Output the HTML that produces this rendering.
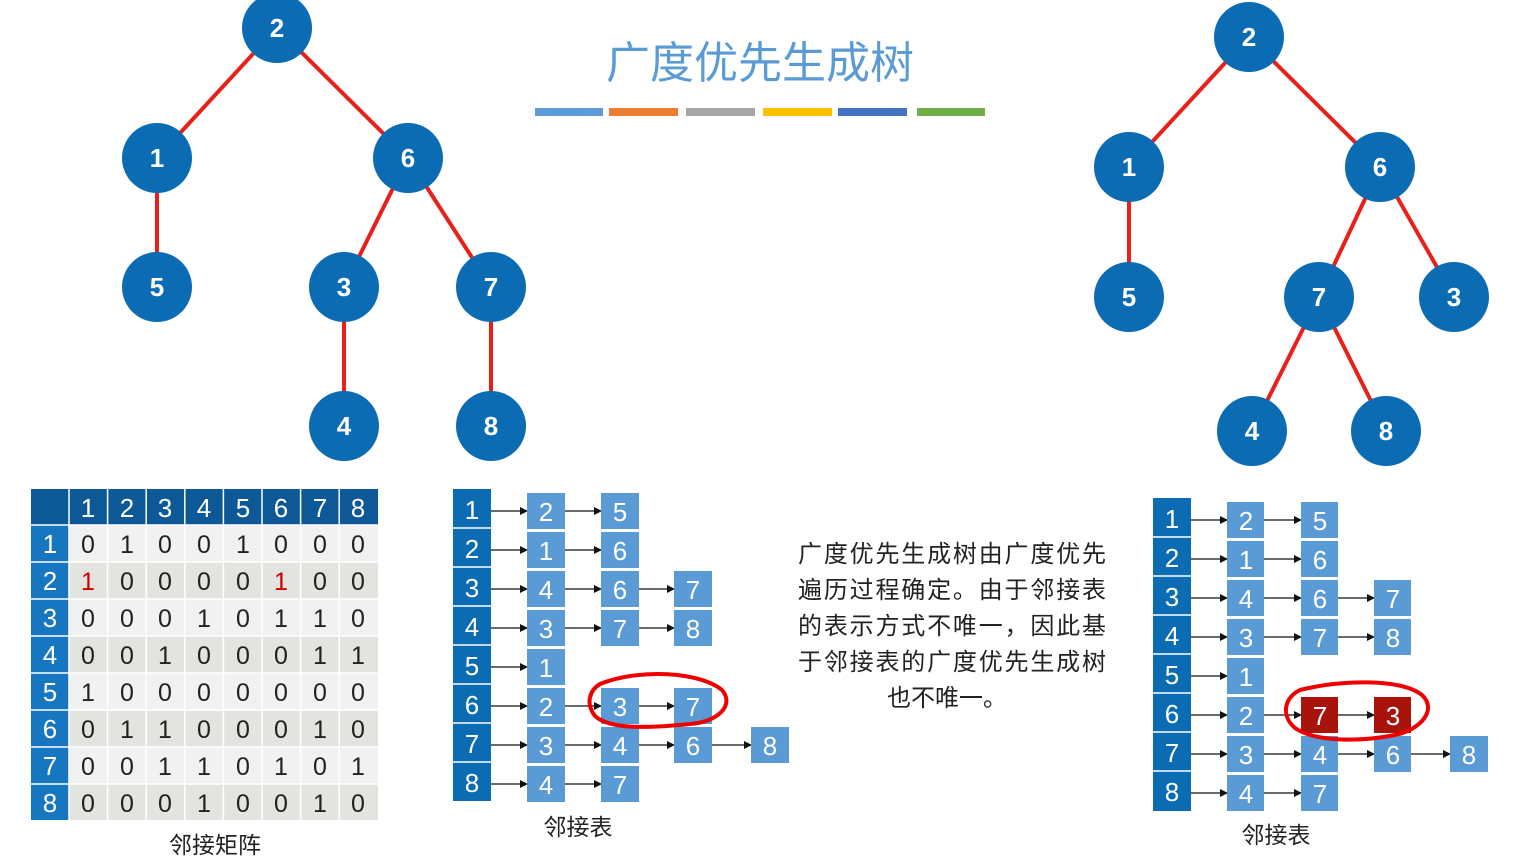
<!DOCTYPE html>
<html><head><meta charset="utf-8"><style>
html,body{margin:0;padding:0;background:#fff;width:1531px;height:864px;overflow:hidden}
svg{display:block}
text{font-family:"Liberation Sans","Noto Sans CJK SC",sans-serif}
</style></head><body>
<svg width="1531" height="864" viewBox="0 0 1531 864" xmlns="http://www.w3.org/2000/svg">
<defs>
<marker id="ar" markerWidth="8" markerHeight="8" refX="7" refY="4" orient="auto" markerUnits="userSpaceOnUse"><path d="M0,0 L8,4 L0,8 z" fill="#111"/></marker>
</defs>

<text x="760" y="78" text-anchor="middle" font-size="44" fill="#5b9bd5" style="font-family:'Noto Sans CJK SC',sans-serif">广度优先生成树</text>
<rect x="535" y="108" width="68" height="8" fill="#5b9bd5"/>
<rect x="609" y="108" width="69" height="8" fill="#ed7d31"/>
<rect x="686" y="108" width="69" height="8" fill="#a5a5a5"/>
<rect x="763" y="108" width="69" height="8" fill="#ffc000"/>
<rect x="838" y="108" width="69" height="8" fill="#4472c4"/>
<rect x="917" y="108" width="68" height="8" fill="#70ad47"/>

<g stroke="#e8201a" stroke-width="4">
<line x1="277" y1="28" x2="157" y2="158"/><line x1="277" y1="28" x2="408" y2="158"/>
<line x1="157" y1="158" x2="157" y2="287"/><line x1="408" y1="158" x2="344" y2="287"/>
<line x1="408" y1="158" x2="491" y2="287"/><line x1="344" y1="287" x2="344" y2="426"/>
<line x1="491" y1="287" x2="491" y2="426"/>
</g>
<g fill="#0b6cb3">
<circle cx="277" cy="28" r="35"/><circle cx="157" cy="158" r="35"/><circle cx="408" cy="158" r="35"/>
<circle cx="157" cy="287" r="35"/><circle cx="344" cy="287" r="35"/><circle cx="491" cy="287" r="35"/>
<circle cx="344" cy="426" r="35"/><circle cx="491" cy="426" r="35"/>
</g>
<g fill="#fff" font-size="26" font-weight="bold" text-anchor="middle">
<text x="277" y="37">2</text><text x="157" y="167">1</text><text x="408" y="167">6</text>
<text x="157" y="296">5</text><text x="344" y="296">3</text><text x="491" y="296">7</text>
<text x="344" y="435">4</text><text x="491" y="435">8</text>
</g>

<g stroke="#e8201a" stroke-width="4">
<line x1="1249" y1="37" x2="1129" y2="167"/><line x1="1249" y1="37" x2="1380" y2="167"/>
<line x1="1129" y1="167" x2="1129" y2="297"/><line x1="1380" y1="167" x2="1319" y2="297"/>
<line x1="1380" y1="167" x2="1454" y2="297"/><line x1="1319" y1="297" x2="1252" y2="431"/>
<line x1="1319" y1="297" x2="1386" y2="431"/>
</g>
<g fill="#0b6cb3">
<circle cx="1249" cy="37" r="35"/><circle cx="1129" cy="167" r="35"/><circle cx="1380" cy="167" r="35"/>
<circle cx="1129" cy="297" r="35"/><circle cx="1319" cy="297" r="35"/><circle cx="1454" cy="297" r="35"/>
<circle cx="1252" cy="431" r="35"/><circle cx="1386" cy="431" r="35"/>
</g>
<g fill="#fff" font-size="26" font-weight="bold" text-anchor="middle">
<text x="1249" y="46">2</text><text x="1129" y="176">1</text><text x="1380" y="176">6</text>
<text x="1129" y="306">5</text><text x="1319" y="306">7</text><text x="1454" y="306">3</text>
<text x="1252" y="440">4</text><text x="1386" y="440">8</text>
</g>

<rect x="31" y="489" width="347" height="36" fill="#0d5896"/>
<rect x="31" y="525" width="38" height="295" fill="#1677c0"/>
<g>
<rect x="69" y="525" width="309" height="37" fill="#f1f1f1"/>
<rect x="69" y="562" width="309" height="37" fill="#e3e3df"/>
<rect x="69" y="599" width="309" height="37" fill="#f1f1f1"/>
<rect x="69" y="636" width="309" height="37" fill="#e3e3df"/>
<rect x="69" y="673" width="309" height="37" fill="#f1f1f1"/>
<rect x="69" y="710" width="309" height="37" fill="#e3e3df"/>
<rect x="69" y="747" width="309" height="37" fill="#f1f1f1"/>
<rect x="69" y="784" width="309" height="36" fill="#e3e3df"/>
</g>
<g stroke="#fff" stroke-width="1.5">
<line x1="69" y1="489" x2="69" y2="820"/><line x1="107.6" y1="489" x2="107.6" y2="820"/><line x1="146.2" y1="489" x2="146.2" y2="820"/><line x1="184.8" y1="489" x2="184.8" y2="820"/><line x1="223.4" y1="489" x2="223.4" y2="820"/><line x1="262" y1="489" x2="262" y2="820"/><line x1="300.6" y1="489" x2="300.6" y2="820"/><line x1="339.2" y1="489" x2="339.2" y2="820"/>
<line x1="31" y1="525" x2="378" y2="525"/><line x1="31" y1="562" x2="378" y2="562"/><line x1="31" y1="599" x2="378" y2="599"/><line x1="31" y1="636" x2="378" y2="636"/><line x1="31" y1="673" x2="378" y2="673"/><line x1="31" y1="710" x2="378" y2="710"/><line x1="31" y1="747" x2="378" y2="747"/><line x1="31" y1="784" x2="378" y2="784"/>
</g>
<g fill="#fff" font-size="26" text-anchor="middle">
<text x="88" y="517">1</text><text x="127" y="517">2</text><text x="165" y="517">3</text><text x="204" y="517">4</text><text x="243" y="517">5</text><text x="281" y="517">6</text><text x="320" y="517">7</text><text x="358" y="517">8</text>
<text x="50" y="553">1</text><text x="50" y="590">2</text><text x="50" y="627">3</text><text x="50" y="664">4</text><text x="50" y="701">5</text><text x="50" y="738">6</text><text x="50" y="775">7</text><text x="50" y="812">8</text>
</g>
<g fill="#222" font-size="25" text-anchor="middle">
<text y="553"><tspan x="88">0</tspan><tspan x="127">1</tspan><tspan x="165">0</tspan><tspan x="204">0</tspan><tspan x="243">1</tspan><tspan x="281">0</tspan><tspan x="320">0</tspan><tspan x="358">0</tspan></text>
<text y="590"><tspan x="88" fill="#c00">1</tspan><tspan x="127">0</tspan><tspan x="165">0</tspan><tspan x="204">0</tspan><tspan x="243">0</tspan><tspan x="281" fill="#c00">1</tspan><tspan x="320">0</tspan><tspan x="358">0</tspan></text>
<text y="627"><tspan x="88">0</tspan><tspan x="127">0</tspan><tspan x="165">0</tspan><tspan x="204">1</tspan><tspan x="243">0</tspan><tspan x="281">1</tspan><tspan x="320">1</tspan><tspan x="358">0</tspan></text>
<text y="664"><tspan x="88">0</tspan><tspan x="127">0</tspan><tspan x="165">1</tspan><tspan x="204">0</tspan><tspan x="243">0</tspan><tspan x="281">0</tspan><tspan x="320">1</tspan><tspan x="358">1</tspan></text>
<text y="701"><tspan x="88">1</tspan><tspan x="127">0</tspan><tspan x="165">0</tspan><tspan x="204">0</tspan><tspan x="243">0</tspan><tspan x="281">0</tspan><tspan x="320">0</tspan><tspan x="358">0</tspan></text>
<text y="738"><tspan x="88">0</tspan><tspan x="127">1</tspan><tspan x="165">1</tspan><tspan x="204">0</tspan><tspan x="243">0</tspan><tspan x="281">0</tspan><tspan x="320">1</tspan><tspan x="358">0</tspan></text>
<text y="775"><tspan x="88">0</tspan><tspan x="127">0</tspan><tspan x="165">1</tspan><tspan x="204">1</tspan><tspan x="243">0</tspan><tspan x="281">1</tspan><tspan x="320">0</tspan><tspan x="358">1</tspan></text>
<text y="812"><tspan x="88">0</tspan><tspan x="127">0</tspan><tspan x="165">0</tspan><tspan x="204">1</tspan><tspan x="243">0</tspan><tspan x="281">0</tspan><tspan x="320">1</tspan><tspan x="358">0</tspan></text>
</g>
<text x="215" y="853" text-anchor="middle" font-size="23" fill="#222" style="font-family:'Noto Sans CJK SC',sans-serif">邻接矩阵</text>

<rect x="453" y="489" width="38" height="312" fill="#0b6cb3"/>
<g stroke="#fff" stroke-width="1.5">
<line x1="453" y1="528" x2="491" y2="528"/><line x1="453" y1="567" x2="491" y2="567"/><line x1="453" y1="606" x2="491" y2="606"/><line x1="453" y1="645" x2="491" y2="645"/><line x1="453" y1="684" x2="491" y2="684"/><line x1="453" y1="723" x2="491" y2="723"/><line x1="453" y1="762" x2="491" y2="762"/>
</g>
<g fill="#fff" font-size="26" text-anchor="middle">
<text x="472" y="519">1</text><text x="472" y="558">2</text><text x="472" y="597">3</text><text x="472" y="636">4</text><text x="472" y="675">5</text><text x="472" y="714">6</text><text x="472" y="753">7</text><text x="472" y="792">8</text>
</g>
<g stroke="#111" stroke-width="1.3" marker-end="url(#ar)">
<line x1="491" y1="511" x2="527" y2="511"/><line x1="565" y1="511" x2="601" y2="511"/>
<line x1="491" y1="550" x2="527" y2="550"/><line x1="565" y1="550" x2="601" y2="550"/>
<line x1="491" y1="589" x2="527" y2="589"/><line x1="565" y1="589" x2="601" y2="589"/><line x1="639" y1="589" x2="674" y2="589"/>
<line x1="491" y1="628" x2="527" y2="628"/><line x1="565" y1="628" x2="601" y2="628"/><line x1="639" y1="628" x2="674" y2="628"/>
<line x1="491" y1="667" x2="527" y2="667"/>
<line x1="491" y1="706" x2="527" y2="706"/><line x1="565" y1="706" x2="601" y2="706"/><line x1="639" y1="706" x2="674" y2="706"/>
<line x1="491" y1="745" x2="527" y2="745"/><line x1="565" y1="745" x2="601" y2="745"/><line x1="639" y1="745" x2="674" y2="745"/><line x1="712" y1="745" x2="751" y2="745"/>
<line x1="491" y1="784" x2="527" y2="784"/><line x1="565" y1="784" x2="601" y2="784"/>
</g>
<g fill="#5b9bd5">
<rect x="527" y="493" width="38" height="36"/><rect x="601" y="493" width="38" height="36"/>
<rect x="527" y="532" width="38" height="36"/><rect x="601" y="532" width="38" height="36"/>
<rect x="527" y="571" width="38" height="36"/><rect x="601" y="571" width="38" height="36"/><rect x="674" y="571" width="38" height="36"/>
<rect x="527" y="610" width="38" height="36"/><rect x="601" y="610" width="38" height="36"/><rect x="674" y="610" width="38" height="36"/>
<rect x="527" y="649" width="38" height="36"/>
<rect x="527" y="688" width="38" height="36"/><rect x="601" y="688" width="38" height="36"/><rect x="674" y="688" width="38" height="36"/>
<rect x="527" y="727" width="38" height="36"/><rect x="601" y="727" width="38" height="36"/><rect x="674" y="727" width="38" height="36"/><rect x="751" y="727" width="38" height="36"/>
<rect x="527" y="766" width="38" height="36"/><rect x="601" y="766" width="38" height="36"/>
</g>
<g fill="#fff" font-size="26" text-anchor="middle">
<text x="546" y="521">2</text><text x="620" y="521">5</text>
<text x="546" y="560">1</text><text x="620" y="560">6</text>
<text x="546" y="599">4</text><text x="620" y="599">6</text><text x="693" y="599">7</text>
<text x="546" y="638">3</text><text x="620" y="638">7</text><text x="693" y="638">8</text>
<text x="546" y="677">1</text>
<text x="546" y="716">2</text><text x="620" y="716">3</text><text x="693" y="716">7</text>
<text x="546" y="755">3</text><text x="620" y="755">4</text><text x="693" y="755">6</text><text x="770" y="755">8</text>
<text x="546" y="794">4</text><text x="620" y="794">7</text>
</g>
<path d="M600,684 C640,668 700,672 722,690 C735,705 718,722 690,724 C650,728 610,730 595,716 C585,703 590,690 600,684 Z" fill="none" stroke="#e00" stroke-width="4"/>
<text x="578" y="835" text-anchor="middle" font-size="23" fill="#222" style="font-family:'Noto Sans CJK SC',sans-serif">邻接表</text>

<g font-size="24" fill="#222" text-anchor="middle" style="font-family:'Noto Sans CJK SC',sans-serif">
<text x="952" y="562" textLength="308">广度优先生成树由广度优先</text>
<text x="952" y="598" textLength="308">遍历过程确定。由于邻接表</text>
<text x="952" y="634" textLength="308">的表示方式不唯一，因此基</text>
<text x="952" y="670" textLength="308">于邻接表的广度优先生成树</text>
<text x="947" y="706">也不唯一。</text>
</g>

<rect x="1153" y="498" width="38" height="313" fill="#0b6cb3"/>
<g stroke="#fff" stroke-width="1.5">
<line x1="1153" y1="537" x2="1191" y2="537"/><line x1="1153" y1="576" x2="1191" y2="576"/><line x1="1153" y1="615" x2="1191" y2="615"/><line x1="1153" y1="654" x2="1191" y2="654"/><line x1="1153" y1="693" x2="1191" y2="693"/><line x1="1153" y1="732" x2="1191" y2="732"/><line x1="1153" y1="771" x2="1191" y2="771"/>
</g>
<g fill="#fff" font-size="26" text-anchor="middle">
<text x="1172" y="528">1</text><text x="1172" y="567">2</text><text x="1172" y="606">3</text><text x="1172" y="645">4</text><text x="1172" y="684">5</text><text x="1172" y="723">6</text><text x="1172" y="762">7</text><text x="1172" y="801">8</text>
</g>
<g stroke="#111" stroke-width="1.3" marker-end="url(#ar)">
<line x1="1191" y1="520" x2="1227" y2="520"/><line x1="1264" y1="520" x2="1301" y2="520"/>
<line x1="1191" y1="559" x2="1227" y2="559"/><line x1="1264" y1="559" x2="1301" y2="559"/>
<line x1="1191" y1="598" x2="1227" y2="598"/><line x1="1264" y1="598" x2="1301" y2="598"/><line x1="1338" y1="598" x2="1374" y2="598"/>
<line x1="1191" y1="637" x2="1227" y2="637"/><line x1="1264" y1="637" x2="1301" y2="637"/><line x1="1338" y1="637" x2="1374" y2="637"/>
<line x1="1191" y1="676" x2="1227" y2="676"/>
<line x1="1191" y1="715" x2="1227" y2="715"/><line x1="1264" y1="715" x2="1301" y2="715"/><line x1="1338" y1="715" x2="1374" y2="715"/>
<line x1="1191" y1="754" x2="1227" y2="754"/><line x1="1264" y1="754" x2="1301" y2="754"/><line x1="1338" y1="754" x2="1374" y2="754"/><line x1="1411" y1="754" x2="1450" y2="754"/>
<line x1="1191" y1="793" x2="1227" y2="793"/><line x1="1264" y1="793" x2="1301" y2="793"/>
</g>
<g fill="#5b9bd5">
<rect x="1227" y="502" width="37" height="36"/><rect x="1301" y="502" width="37" height="36"/>
<rect x="1227" y="541" width="37" height="36"/><rect x="1301" y="541" width="37" height="36"/>
<rect x="1227" y="580" width="37" height="36"/><rect x="1301" y="580" width="37" height="36"/><rect x="1374" y="580" width="37" height="36"/>
<rect x="1227" y="619" width="37" height="36"/><rect x="1301" y="619" width="37" height="36"/><rect x="1374" y="619" width="37" height="36"/>
<rect x="1227" y="658" width="37" height="36"/>
<rect x="1227" y="697" width="37" height="36"/>
<rect x="1227" y="736" width="37" height="36"/><rect x="1301" y="736" width="37" height="36"/><rect x="1374" y="736" width="37" height="36"/><rect x="1450" y="736" width="38" height="36"/>
<rect x="1227" y="775" width="37" height="36"/><rect x="1301" y="775" width="37" height="36"/>
</g>
<rect x="1301" y="697" width="37" height="36" fill="#a8140c"/>
<rect x="1374" y="697" width="37" height="36" fill="#a8140c"/>
<g fill="#fff" font-size="26" text-anchor="middle">
<text x="1246" y="530">2</text><text x="1320" y="530">5</text>
<text x="1246" y="569">1</text><text x="1320" y="569">6</text>
<text x="1246" y="608">4</text><text x="1320" y="608">6</text><text x="1393" y="608">7</text>
<text x="1246" y="647">3</text><text x="1320" y="647">7</text><text x="1393" y="647">8</text>
<text x="1246" y="686">1</text>
<text x="1246" y="725">2</text><text x="1320" y="725">7</text><text x="1393" y="725">3</text>
<text x="1246" y="764">3</text><text x="1320" y="764">4</text><text x="1393" y="764">6</text><text x="1469" y="764">8</text>
<text x="1246" y="803">4</text><text x="1320" y="803">7</text>
</g>
<path d="M1300,690 C1340,680 1400,678 1422,695 C1438,710 1420,730 1395,735 C1360,742 1315,742 1295,728 C1280,715 1285,697 1300,690 Z" fill="none" stroke="#e00" stroke-width="4"/>
<text x="1276" y="843" text-anchor="middle" font-size="23" fill="#222" style="font-family:'Noto Sans CJK SC',sans-serif">邻接表</text>
</svg>
</body></html>
